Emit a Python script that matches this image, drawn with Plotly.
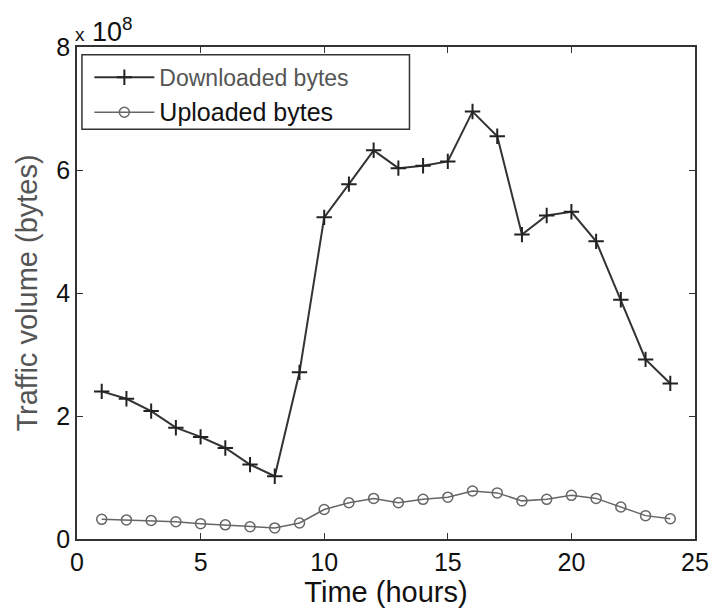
import plotly.graph_objects as go

# Hourly traffic volume, in units of 1e8 bytes
hours = list(range(1, 25))
downloaded = [2.40, 2.28, 2.08, 1.81, 1.66, 1.48, 1.21, 1.02, 2.71, 5.23,
              5.77, 6.32, 6.03, 6.07, 6.14, 6.95, 6.55, 4.95, 5.26, 5.32,
              4.84, 3.89, 2.92, 2.53]
uploaded = [0.32, 0.31, 0.30, 0.28, 0.25, 0.23, 0.20, 0.18, 0.26, 0.48,
            0.59, 0.66, 0.59, 0.645, 0.68, 0.78, 0.75, 0.62, 0.645, 0.71,
            0.66, 0.52, 0.38, 0.33]

x_ticks = [0, 5, 10, 15, 20, 25]
y_ticks = [0, 2, 4, 6, 8]

FONT = "Liberation Sans, Arial, sans-serif"

fig = go.Figure()

fig.add_trace(go.Scatter(
    x=hours, y=downloaded, mode="lines+markers",
    name="<span style='color:#555555'>Downloaded bytes</span>",
    legendgroup="down",
    line=dict(color="#333333", width=2),
    marker=dict(symbol="cross-thin", size=11, line=dict(color="#222222", width=2)),
))
fig.add_trace(go.Scatter(
    x=hours, y=uploaded, mode="lines+markers",
    name="<span style='font-size:25px'>Uploaded bytes</span>",
    legendgroup="up",
    line=dict(color="#666666", width=1.5),
    marker=dict(symbol="circle-open", size=10, color="#666666",
                line=dict(color="#666666", width=1.5)),
))

axis_common = dict(
    showgrid=False, zeroline=False, showline=True, linecolor="#333333",
    linewidth=1.5, mirror="ticks", ticks="inside", ticklen=6,
    tickcolor="#333333", tickfont=dict(family=FONT, size=25, color="#111111"),
)

fig.update_xaxes(range=[0, 25], tickvals=x_ticks,
                 title=dict(text="Time (hours)", standoff=0,
                            font=dict(family=FONT, size=29, color="#111111")),
                 **axis_common)
fig.update_yaxes(range=[0, 8], tickvals=y_ticks,
                 title=dict(text="Traffic volume (bytes)", standoff=10,
                            font=dict(family=FONT, size=29, color="#555555")),
                 **axis_common)

# Legend frame
fig.add_shape(type="rect", xref="paper", yref="paper",
              x0=0.008, x1=0.538, y0=0.833, y1=0.984,
              line=dict(color="#333333", width=1.5), fillcolor="white",
              layer="below")

# Common exponent for the y axis
fig.add_annotation(text="<span style='font-size:19px'>x</span> 10<sup>8</sup>",
                   xref="paper", yref="paper",
                   x=0.0, y=1.0, xanchor="left", yanchor="bottom",
                   xshift=-4, yshift=-2, showarrow=False,
                   font=dict(family=FONT, size=27, color="#111111"))

fig.update_layout(
    width=721, height=608,
    margin=dict(l=77, r=18, t=47, b=64),
    paper_bgcolor="white", plot_bgcolor="white",
    showlegend=True,
    legend=dict(x=0.02, y=0.982, xanchor="left", yanchor="top",
                bgcolor="rgba(0,0,0,0)", borderwidth=0,
                itemwidth=60, tracegroupgap=2,
                font=dict(family=FONT, size=23, color="#111111")),
)

fig.write_html("out.html")
